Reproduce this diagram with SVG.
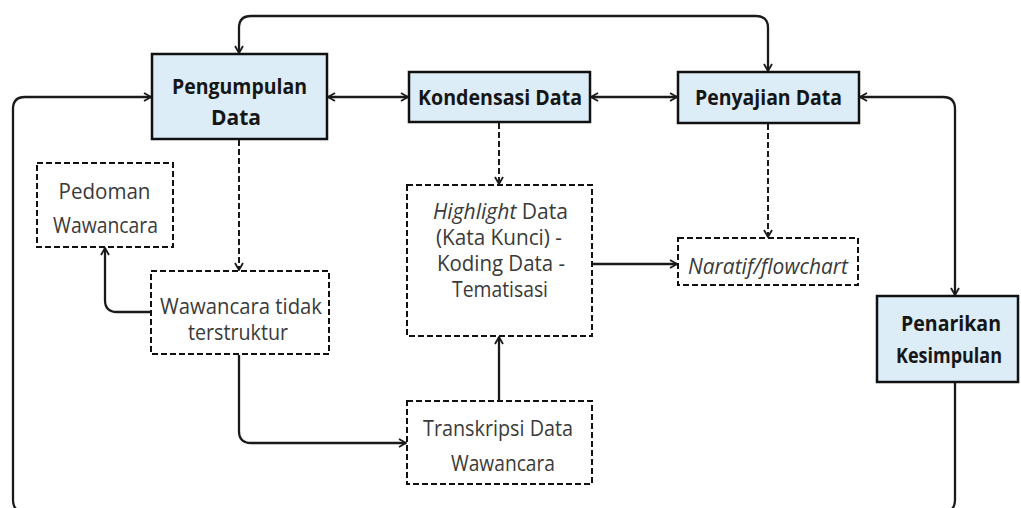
<svg xmlns="http://www.w3.org/2000/svg" width="1021" height="508" viewBox="0 0 1021 508">
<style>
.main{fill:#dcedf7;stroke:#111;stroke-width:2.5}
.dash{fill:#fff;stroke:#111;stroke-width:2;stroke-dasharray:6 3}
.tb{font-family:"Open Sans","Noto Sans",sans-serif;font-weight:700;font-size:22px;fill:#161616;text-anchor:middle}
.tr{font-family:"Open Sans","Noto Sans",sans-serif;font-weight:400;font-size:21px;fill:#3a3a3a;text-anchor:middle}
.c{fill:none;stroke:#1a1a1a;stroke-width:2.3}
.cd{fill:none;stroke:#1a1a1a;stroke-width:2;stroke-dasharray:6 3}
</style>
<defs>
<marker id="ah" markerUnits="userSpaceOnUse" markerWidth="12" markerHeight="12" refX="8" refY="4.5" orient="auto-start-reverse" overflow="visible">
<path d="M1,0.5 L8,4.5 L1,8.5" fill="none" stroke="#1a1a1a" stroke-width="1.8"/>
</marker>
</defs>
<rect width="1021" height="508" fill="#fff"/>
<g id="connectors">
<path class="c" d="M768,71 V28 Q768,16 756,16 H251 Q239,16 239,28 V53" marker-start="url(#ah)" marker-end="url(#ah)"/>
<path class="c" d="M955,383 V500 Q955,512 943,512 H25 Q13,512 13,500 V109 Q13,97 25,97 H151" marker-end="url(#ah)"/>
<path class="c" d="M328,97 H408" marker-start="url(#ah)" marker-end="url(#ah)"/>
<path class="c" d="M591,97 H677" marker-start="url(#ah)" marker-end="url(#ah)"/>
<path class="c" d="M860,97 H943 Q955,97 955,109 V295" marker-start="url(#ah)" marker-end="url(#ah)"/>
<path class="cd" d="M239,140 V270" marker-end="url(#ah)"/>
<path class="cd" d="M499,123 V184" marker-end="url(#ah)"/>
<path class="cd" d="M768,124 V237" marker-end="url(#ah)"/>
<path class="c" d="M151,312 H117 Q105,312 105,300 V248" marker-end="url(#ah)"/>
<path class="c" d="M239,355 V431 Q239,443 251,443 H406" marker-end="url(#ah)"/>
<path class="c" d="M499,401 V337" marker-end="url(#ah)"/>
<path class="c" d="M593,264 H677" marker-end="url(#ah)"/>
</g>
<g id="pengumpulan">
<rect class="main" x="152" y="54" width="175" height="85"/>
<text class="tb" x="239.5" y="94" textLength="135" lengthAdjust="spacingAndGlyphs">Pengumpulan</text>
<text class="tb" x="236" y="125" textLength="50" lengthAdjust="spacingAndGlyphs">Data</text>
</g>
<g id="kondensasi">
<rect class="main" x="409" y="72" width="181" height="50"/>
<text class="tb" x="500" y="105" textLength="164" lengthAdjust="spacingAndGlyphs">Kondensasi Data</text>
</g>
<g id="penyajian">
<rect class="main" x="678" y="72" width="181" height="51"/>
<text class="tb" x="768.5" y="105" textLength="147" lengthAdjust="spacingAndGlyphs">Penyajian Data</text>
</g>
<g id="penarikan">
<rect class="main" x="877" y="296" width="141" height="86"/>
<text class="tb" x="951" y="331" font-size="21" textLength="100" lengthAdjust="spacingAndGlyphs">Penarikan</text>
<text class="tb" x="949" y="363" font-size="21" textLength="106" lengthAdjust="spacingAndGlyphs">Kesimpulan</text>
</g>
<g id="pedoman">
<rect class="dash" x="37" y="163" width="136" height="84"/>
<text class="tr" x="104.5" y="199" textLength="92" lengthAdjust="spacingAndGlyphs">Pedoman</text>
<text class="tr" x="105.5" y="233" textLength="105" lengthAdjust="spacingAndGlyphs">Wawancara</text>
</g>
<g id="wawancara">
<rect class="dash" x="151" y="271" width="178" height="83"/>
<text class="tr" x="241" y="314" textLength="162" lengthAdjust="spacingAndGlyphs">Wawancara tidak</text>
<text class="tr" x="238" y="340" textLength="100" lengthAdjust="spacingAndGlyphs">terstruktur</text>
</g>
<g id="highlight">
<rect class="dash" x="407" y="185" width="185" height="151"/>
<text class="tr" x="500.5" y="219" textLength="135" lengthAdjust="spacingAndGlyphs"><tspan font-style="italic">Highlight</tspan> Data</text>
<text class="tr" x="499" y="245" textLength="126" lengthAdjust="spacingAndGlyphs">(Kata Kunci) -</text>
<text class="tr" x="501" y="271" textLength="128" lengthAdjust="spacingAndGlyphs">Koding Data -</text>
<text class="tr" x="500" y="297" textLength="96" lengthAdjust="spacingAndGlyphs">Tematisasi</text>
</g>
<g id="transkripsi">
<rect class="dash" x="407" y="401" width="185" height="83"/>
<text class="tr" x="498" y="436" textLength="150" lengthAdjust="spacingAndGlyphs">Transkripsi Data</text>
<text class="tr" x="503" y="471" textLength="104" lengthAdjust="spacingAndGlyphs">Wawancara</text>
</g>
<g id="naratif">
<rect class="dash" x="678" y="238" width="180" height="47"/>
<text class="tr" x="768" y="274" font-style="italic" textLength="160" lengthAdjust="spacingAndGlyphs">Naratif/flowchart</text>
</g>
</svg>
